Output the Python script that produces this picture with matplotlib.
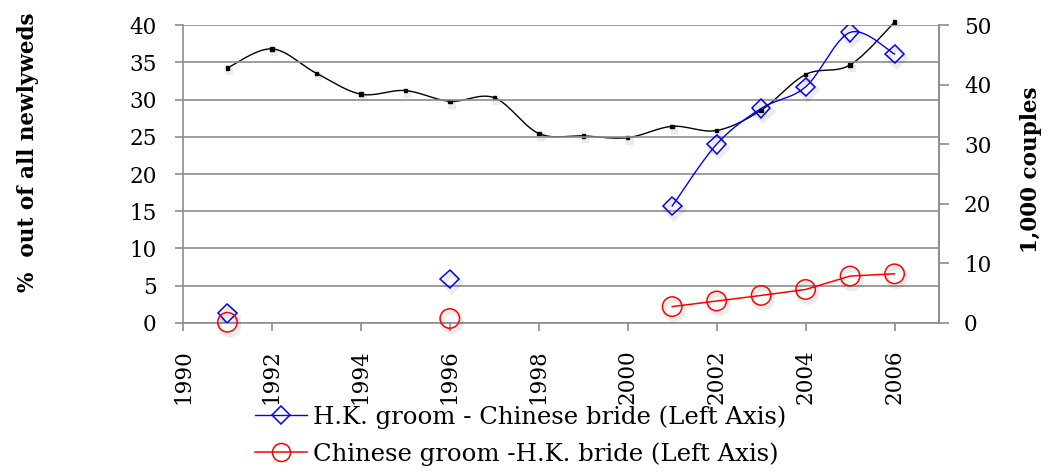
import matplotlib
matplotlib.use("Agg")
import matplotlib.pyplot as plt
import matplotlib.patheffects as pe
import numpy as np

# data
YEARS = [1991, 1992, 1993, 1994, 1995, 1996, 1997, 1998,
         1999, 2000, 2001, 2002, 2003, 2004, 2005, 2006]
# total marriages, thousand couples (right axis)
COUPLES = [42.8, 46.0, 41.9, 38.4, 39.0, 37.2, 37.8, 31.8,
           31.4, 31.1, 33.0, 32.3, 35.7, 41.7, 43.3, 50.5]

# cross-border marriages, % of all newlyweds (left axis)
CB_YEARS = [1991, 1996, 2001, 2002, 2003, 2004, 2005, 2006]
HK_GROOM = [1.3, 5.9, 15.7, 24.0, 28.8, 31.7, 39.0, 36.1]
CN_GROOM = [0.1, 0.6, 2.2, 2.95, 3.7, 4.5, 6.3, 6.6]

LABEL_HK = 'H.K. groom - Chinese bride (Left Axis)'
LABEL_CN = 'Chinese groom -H.K. bride (Left Axis)'

GRID = '#8c8c8c'
SHADOW = [pe.SimpleLineShadow(offset=(1.5, -2.5), shadow_color='#000000', alpha=0.08, linewidth=3),
          pe.Normal()]


def smooth(x, y, n=30):
    # excel style smoothed line (catmull-rom through the points)
    x = np.asarray(x, float)
    y = np.asarray(y, float)
    px = np.concatenate([[x[0]], x, [x[-1]]])
    py = np.concatenate([[y[0]], y, [y[-1]]])
    xs, ys = [], []
    t = np.linspace(0, 1, n)
    for i in range(1, len(px) - 2):
        p0 = np.array([px[i], py[i]])
        p3 = np.array([px[i + 1], py[i + 1]])
        p1 = p0 + (np.array([px[i + 1], py[i + 1]]) - np.array([px[i - 1], py[i - 1]])) / 6.0
        p2 = p3 - (np.array([px[i + 2], py[i + 2]]) - np.array([px[i], py[i]])) / 6.0
        b = ((1 - t) ** 3)[:, None] * p0 + (3 * (1 - t) ** 2 * t)[:, None] * p1 \
            + (3 * (1 - t) * t ** 2)[:, None] * p2 + (t ** 3)[:, None] * p3
        xs.append(b[:, 0])
        ys.append(b[:, 1])
    return np.concatenate(xs), np.concatenate(ys)


plt.rcParams['font.family'] = 'DejaVu Serif'

fig = plt.figure(figsize=(10.57, 4.72), dpi=100)
ax = fig.add_axes([0.1731, 0.3157, 0.7153, 0.6313])
ax2 = ax.twinx()

# left axis
ax.set_xlim(1990, 2007)
ax.set_ylim(0, 40)
ax.set_yticks(np.arange(0, 41, 5))
ax.set_xticks(np.arange(1990, 2007, 2))
ax.set_xticklabels([str(v) for v in range(1990, 2007, 2)], rotation=90, fontsize=15.5)
ax.yaxis.grid(True, color=GRID, linewidth=1.2)
ax.set_axisbelow(True)
ax.spines['top'].set_visible(False)
for s in ['left', 'bottom', 'right']:
    ax.spines[s].set_color(GRID)
    ax.spines[s].set_linewidth(1.2)
ax.tick_params(axis='y', length=6, width=1.2, color=GRID, labelsize=15.5, pad=13)
ax.tick_params(axis='x', length=6, width=1.2, color=GRID, pad=13)

# right axis
ax2.set_ylim(0, 50)
ax2.set_yticks(np.arange(0, 51, 10))
ax2.tick_params(axis='y', length=7, width=1.2, color=GRID, labelsize=15.5, pad=11)
ax2.spines['top'].set_visible(False)
ax2.spines['right'].set_color(GRID)
ax2.spines['right'].set_linewidth(1.2)
ax2.spines['left'].set_visible(False)
ax2.spines['bottom'].set_visible(False)

# black smoothed line (right axis)
sx, sy = smooth(YEARS, COUPLES)
ax2.plot(sx, sy, color='black', linewidth=1.0, clip_on=False)
ax2.plot(YEARS, COUPLES, linestyle='none', marker='s', markersize=2.5,
         color='black', clip_on=False, path_effects=SHADOW)

# blue: diamonds, smoothed line from 2001 on
bx, by = smooth(CB_YEARS[2:], HK_GROOM[2:])
ax.plot(bx, by, color='#0000ff', linewidth=1.0, zorder=3)
ax.plot(CB_YEARS, HK_GROOM, linestyle='none', marker='D', markersize=9.5,
        markerfacecolor='none', markeredgecolor='#0000ff', markeredgewidth=1.1,
        zorder=4, path_effects=SHADOW)

# red: circles, straight line from 2001 on
ax.plot(CB_YEARS[2:], CN_GROOM[2:], color='#ff0000', linewidth=1.1, zorder=3)
ax.plot(CB_YEARS, CN_GROOM, linestyle='none', marker='o', markersize=14,
        markerfacecolor='none', markeredgecolor='#ff0000', markeredgewidth=1.1,
        zorder=4, clip_on=False, path_effects=SHADOW)

ax.set_zorder(ax2.get_zorder() + 1)
ax.patch.set_visible(False)

# axis titles
fig.text(28 / 1057, 1 - 152 / 472, '%  out of all newlyweds', rotation=90,
         ha='center', va='center', fontsize=15.5, fontweight='bold')
fig.text(1031 / 1057, 1 - 170 / 472, '1,000 couples', rotation=90,
         ha='center', va='center', fontsize=15.5, fontweight='bold')

# legend
h1, = ax.plot([], [], color='#0000ff', linewidth=1.0, marker='D', markersize=9,
              markerfacecolor='none', markeredgewidth=1.1)
h2, = ax.plot([], [], color='#ff0000', linewidth=1.1, marker='o', markersize=13,
              markerfacecolor='none', markeredgewidth=1.1)
fig.legend([h1, h2], [LABEL_HK, LABEL_CN], loc='upper left',
           bbox_to_anchor=(255 / 1057, 1 - 405 / 472), frameon=False,
           prop={'size': 17.6},
           handlelength=2.13, handletextpad=0.25, labelspacing=0.55,
           borderpad=0, borderaxespad=0)

fig.savefig('out.png', dpi=100)
